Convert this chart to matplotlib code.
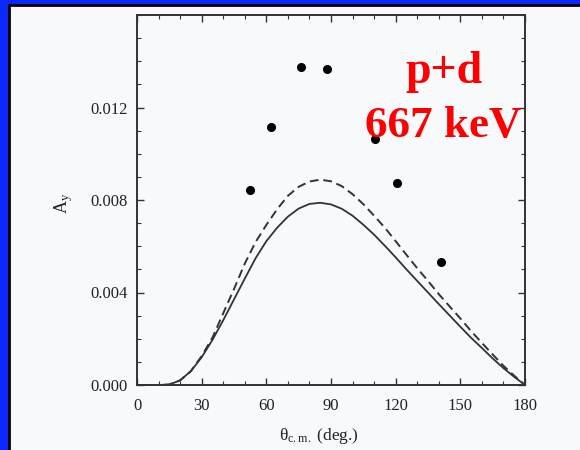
import matplotlib
matplotlib.use("Agg")
from matplotlib import pyplot as plt
from matplotlib.patches import Rectangle
from matplotlib.ticker import MultipleLocator

plt.rcParams["font.family"] = ["Liberation Serif", "DejaVu Serif"]
plt.rcParams["mathtext.fontset"] = "custom"
plt.rcParams["mathtext.rm"] = "Liberation Serif"
plt.rcParams["mathtext.it"] = "Liberation Serif:italic"

# ------ data

theta_exp = [52.4, 62.2, 76.3, 88.3, 110.3, 120.4, 141.0]          # deg
ay_exp = [0.00842, 0.01114, 0.01375, 0.01365, 0.01062, 0.00874, 0.00530]

theta_calc = [0, 5, 10, 15, 20, 25, 30, 35, 40, 45, 50, 55, 60, 65, 70, 75, 80, 85, 90,
              95, 100, 105, 110, 115, 120, 125, 130, 135, 140, 145, 150, 155, 160,
              165, 170, 175, 180]
ay_solid = [0, 0, 0, 0.00002, 0.00020, 0.00060, 0.00120, 0.00195, 0.00280, 0.00370,
            0.00460, 0.00548, 0.00622, 0.00680, 0.00728, 0.00763, 0.00783, 0.00788,
            0.00781, 0.00762, 0.00732, 0.00693, 0.00650, 0.00602, 0.00552, 0.00500,
            0.00450, 0.00400, 0.00350, 0.00301, 0.00252, 0.00204, 0.00160, 0.00115,
            0.00073, 0.00035, 0]
ay_dashed = [0, 0, 0, 0.00002, 0.00020, 0.00060, 0.00125, 0.00205, 0.00310, 0.00415,
             0.00525, 0.00618, 0.00692, 0.00760, 0.00818, 0.00857, 0.00880, 0.00888,
             0.00881, 0.00860, 0.00825, 0.00782, 0.00732, 0.00680, 0.00622, 0.00563,
             0.00505, 0.00450, 0.00393, 0.00340, 0.00288, 0.00233, 0.00182, 0.00132,
             0.00083, 0.00040, 0]

x_ticks = [0, 30, 60, 90, 120, 150, 180]
y_ticks = [0.000, 0.004, 0.008, 0.012]

# ------ figure

fig = plt.figure(figsize=(5.8, 4.5), dpi=100, facecolor="#0a28fa")
fig.patches.append(Rectangle((9 / 580, -0.05), 1.1, 1 - 5 / 450 + 0.05,
                             transform=fig.transFigure, facecolor="#f8f9fb",
                             edgecolor="black", lw=2, zorder=-10))

ax = fig.add_axes([137 / 580, 1 - 385 / 450, 388 / 580, 370 / 450])
ax.set_facecolor("none")

ax.plot(theta_calc, ay_dashed, color="#333333", lw=1.4, dashes=(4.5, 2.5),
        solid_joinstyle="round")
ax.plot(theta_calc, ay_solid, color="#333333", lw=1.3, solid_joinstyle="round")
ax.plot(theta_exp, ay_exp, "o", color="black", ms=5.5)

ax.set_xlim(0, 180)
ax.set_ylim(0, 0.016)
ax.set_xticks(x_ticks)
ax.set_yticks(y_ticks)
ax.set_yticklabels([f"{v:.3f}" for v in y_ticks])
ax.xaxis.set_minor_locator(MultipleLocator(10))
ax.yaxis.set_minor_locator(MultipleLocator(0.001))
ax.tick_params(which="both", direction="in", top=True, right=True,
               colors="#333333", labelcolor="#222222", labelsize=12)
ax.tick_params(which="major", length=5, width=1)
ax.tick_params(which="minor", length=3, width=0.8)
ax.tick_params(axis="x", pad=9)
ax.tick_params(axis="y", pad=7)
for s in ax.spines.values():
    s.set_color("#333333")
    s.set_linewidth(1.4)

ax.set_xlabel(r"$\mathrm{\theta}_{\mathrm{c.m.}}$ (deg.)", fontsize=12.5, color="#222222")
ax.xaxis.set_label_coords(0.47, -0.11)
ax.set_ylabel(r"$\mathrm{A}_{\mathrm{y}}$", fontsize=13, color="#222222")
ax.yaxis.set_label_coords(-0.16, 0.49)

ax.text(0.79, 0.815, "p+d", transform=ax.transAxes, ha="center", va="baseline",
        color="red", fontsize=33, fontweight="bold")
ax.text(0.79, 0.67, "667 keV", transform=ax.transAxes, ha="center", va="baseline",
        color="red", fontsize=32.5, fontweight="bold")

fig.savefig("out.png", dpi=100, facecolor=fig.get_facecolor())
